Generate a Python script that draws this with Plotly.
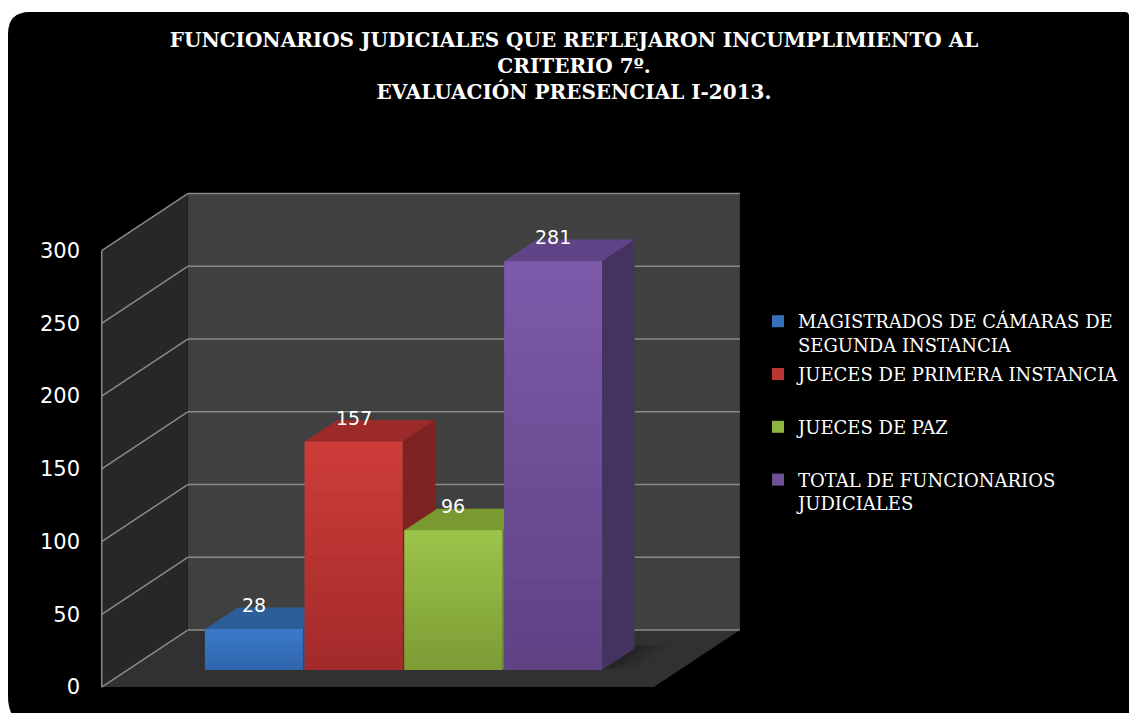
import plotly.graph_objects as go

# ---- data -------------------------------------------------------------
categories = [
    "MAGISTRADOS DE CÁMARAS DE<br>SEGUNDA INSTANCIA",
    "JUECES DE PRIMERA INSTANCIA",
    "JUECES DE PAZ",
    "TOTAL DE FUNCIONARIOS<br>JUDICIALES",
]
values = [28, 157, 96, 281]
y_ticks = [0, 50, 100, 150, 200, 250, 300]

# ---- colours ----------------------------------------------------------
front_top = ["#3b7bcb", "#cd3c39", "#9cc54a", "#7e5aaa"]
front_bottom = ["#2f64ab", "#a32b2a", "#7c9b35", "#5e4284"]
top_colors = ["#2c5f99", "#9b2a28", "#789a30", "#5f4488"]
side_colors = ["#244d80", "#7e2322", "#63802a", "#45335f"]
legend_colors = ["#3570bb", "#bd3533", "#8db640", "#6e4f98"]

WALL_BACK = "#404040"
WALL_SIDE = "#272727"
FLOOR = "#313131"
GRID = "#8a8a8a"

# ---- pseudo-3D geometry (data units of the bar axes) ------------------
BAR_W = 0.98
DEPTH_X = 0.862      # lateral shift for one full depth step
DEPTH_Y = 39.2       # vertical shift for one full depth step
D_FRONT = -0.30      # front edge of floor / side wall
D_BACK = 0.70        # back wall
D_BAR = 0.38         # bar depth
WALL_L = -1.266
WALL_R = 4.268
WALL_TOP = max(y_ticks)

X_RANGE = [-1.592, 4.923]
Y_RANGE = [-20.62, 336.77]
Y2_RANGE = [r - D_FRONT * DEPTH_Y for r in Y_RANGE]


def proj(x, v, d):
    return x + d * DEPTH_X, v + d * DEPTH_Y


def poly_path(pts):
    return "M " + " L ".join(f"{x:.4f},{y:.4f}" for x, y in pts) + " Z"


def mix(c1, c2, t):
    a = [int(c1[i:i + 2], 16) for i in (1, 3, 5)]
    b = [int(c2[i:i + 2], 16) for i in (1, 3, 5)]
    return "rgb(%d,%d,%d)" % tuple(round(a[k] + (b[k] - a[k]) * t) for k in range(3))


shapes = []

# black rounded panel (paper coordinates, converted from page pixels)
PL, PT, PW, PH = 95, 180, 650, 520


def px(xp, yp):
    return (xp - PL) / PW, (PT + PH - yp) / PH


def panel_path():
    l, t, r, b = 8, 12, 1129, 728
    rtl, rtr, rbl = 22, 4, 32
    pts = [
        ("M", px(l, t + rtl)),
        ("Q", px(l, t), px(l + rtl, t)),
        ("L", px(r - rtr, t)),
        ("Q", px(r, t), px(r, t + rtr)),
        ("L", px(r, b)),
        ("L", px(l + rbl, b)),
        ("Q", px(l, b), px(l, b - rbl)),
    ]
    s = ""
    for item in pts:
        cmd = item[0]
        coords = " ".join(f"{p[0]:.5f},{p[1]:.5f}" for p in item[1:])
        s += f"{cmd} {coords} "
    return s + "Z"


shapes.append(dict(type="path", xref="paper", yref="paper", path=panel_path(),
                   fillcolor="black", line=dict(width=0), layer="below"))

# walls and floor
shapes.append(dict(type="path", xref="x", yref="y", layer="below",
                   path=poly_path([proj(WALL_L, 0, D_BACK), proj(WALL_R, 0, D_BACK),
                                   proj(WALL_R, WALL_TOP, D_BACK), proj(WALL_L, WALL_TOP, D_BACK)]),
                   fillcolor=WALL_BACK, line=dict(width=0)))
shapes.append(dict(type="path", xref="x", yref="y", layer="below",
                   path=poly_path([proj(WALL_L, 0, D_FRONT), proj(WALL_L, 0, D_BACK),
                                   proj(WALL_L, WALL_TOP, D_BACK), proj(WALL_L, WALL_TOP, D_FRONT)]),
                   fillcolor=WALL_SIDE, line=dict(width=0)))
shapes.append(dict(type="path", xref="x", yref="y", layer="below",
                   path=poly_path([proj(WALL_L, 0, D_FRONT), proj(WALL_R, 0, D_FRONT),
                                   proj(WALL_R, 0, D_BACK), proj(WALL_L, 0, D_BACK)]),
                   fillcolor=FLOOR, line=dict(width=0)))

# gridlines on back wall and side wall
for t in y_ticks:
    x0, y0 = proj(WALL_L, t, D_BACK)
    x1, y1 = proj(WALL_R, t, D_BACK)
    shapes.append(dict(type="line", xref="x", yref="y", layer="below",
                       x0=x0, y0=y0, x1=x1, y1=y1, line=dict(color=GRID, width=1.5)))
    x0, y0 = proj(WALL_L, t, D_FRONT)
    x1, y1 = proj(WALL_L, t, D_BACK)
    shapes.append(dict(type="line", xref="x", yref="y", layer="below",
                       x0=x0, y0=y0, x1=x1, y1=y1, line=dict(color=GRID, width=1.5)))
x0, y0 = proj(WALL_L, 0, D_FRONT)
x1, y1 = proj(WALL_L, WALL_TOP, D_FRONT)
shapes.append(dict(type="line", xref="x", yref="y", layer="below",
                   x0=x0, y0=y0, x1=x1, y1=y1, line=dict(color=GRID, width=1.5)))

# soft shadow cast on the floor behind the last bar
last = len(values) - 1
sx = last + BAR_W / 2
for k, alpha in enumerate([0.05, 0.08, 0.11]):
    grow = 0.10 * (3 - k)
    shapes.append(dict(type="path", xref="x", yref="y", layer="below",
                       path=poly_path([proj(sx - 0.05, 0, 0.02), proj(sx + grow, 0, 0.02),
                                       proj(sx + grow, 0, D_BAR + 0.05), proj(sx - 0.05, 0, D_BAR + 0.05)]),
                       fillcolor=f"rgba(0,0,0,{alpha})", line=dict(width=0)))

# bar side and top faces, then a vertical shading on the front faces
N_SLICES = 18
for i, v in enumerate(values):
    xl, xr = i - BAR_W / 2, i + BAR_W / 2
    shapes.append(dict(type="path", xref="x", yref="y", layer="below",
                       path=poly_path([proj(xr, 0, 0), proj(xr, 0, D_BAR),
                                       proj(xr, v, D_BAR), proj(xr, v, 0)]),
                       fillcolor=side_colors[i], line=dict(width=0)))
    shapes.append(dict(type="path", xref="x", yref="y", layer="below",
                       path=poly_path([proj(xl, v, 0), proj(xr, v, 0),
                                       proj(xr, v, D_BAR), proj(xl, v, D_BAR)]),
                       fillcolor=top_colors[i], line=dict(width=0)))
    for k in range(N_SLICES):
        t0 = k / N_SLICES
        t1 = (k + 1) / N_SLICES
        shapes.append(dict(type="rect", xref="x", yref="y", layer="above",
                           x0=xl, x1=xr, y0=v * t0, y1=v * t1 + (0.3 if k < N_SLICES - 1 else 0),
                           fillcolor=mix(front_bottom[i], front_top[i], (t0 + t1) / 2),
                           line=dict(width=0)))

fig = go.Figure()

for i, (name, v) in enumerate(zip(categories, values)):
    label = name if "<br>" in name else name + "<br> "
    fig.add_trace(go.Bar(
        x=[i], y=[v], width=BAR_W, name=label,
        marker=dict(color=legend_colors[i], line=dict(width=0)),
        legendgroup=f"g{i}", hoverinfo="skip",
    ))

# invisible trace carrying the value axis tick labels on the front plane
fig.add_trace(go.Scatter(x=[None], y=[None], yaxis="y2", showlegend=False, hoverinfo="skip"))

annotations = []
for i, v in enumerate(values):
    annotations.append(dict(x=i, y=v, xref="x", yref="y", text=str(v), showarrow=False,
                            yshift=24, font=dict(family="DejaVu Sans", size=19, color="white")))

fig.update_layout(
    width=1133, height=713, autosize=False,
    margin=dict(l=PL, r=1133 - PL - PW, t=PT, b=713 - PT - PH),
    paper_bgcolor="white",
    plot_bgcolor="rgba(0,0,0,0)",
    barmode="overlay",
    shapes=shapes,
    annotations=annotations,
    title=dict(
        text="<b>FUNCIONARIOS JUDICIALES QUE REFLEJARON INCUMPLIMIENTO AL<br>"
             "CRITERIO 7º.<br>EVALUACIÓN PRESENCIAL I-2013.</b>",
        x=574 / 1133, xanchor="center", xref="container",
        y=1 - 47 / 713, yanchor="top", yref="container",
        font=dict(family="DejaVu Serif", size=20, color="white"),
    ),
    xaxis=dict(range=X_RANGE, visible=False, fixedrange=True),
    yaxis=dict(range=Y_RANGE, showticklabels=False, showgrid=False, zeroline=False,
               showline=False, fixedrange=True),
    yaxis2=dict(range=Y2_RANGE, overlaying="y", side="left", anchor="x",
                tickvals=y_ticks, ticktext=[str(t) for t in y_ticks],
                showgrid=False, zeroline=False, showline=False, ticks="",
                ticklabelstandoff=14,
                tickfont=dict(family="DejaVu Sans", size=21, color="white"),
                fixedrange=True),
    legend=dict(
        xref="container", yref="container",
        x=758 / 1133, xanchor="left", y=1 - 303 / 713, yanchor="top",
        font=dict(family="DejaVu Serif", size=18, color="white"),
        bgcolor="rgba(0,0,0,0)", valign="top", tracegroupgap=3,
        traceorder="grouped",
    ),
    showlegend=True,
)

fig.write_html("out.html")
